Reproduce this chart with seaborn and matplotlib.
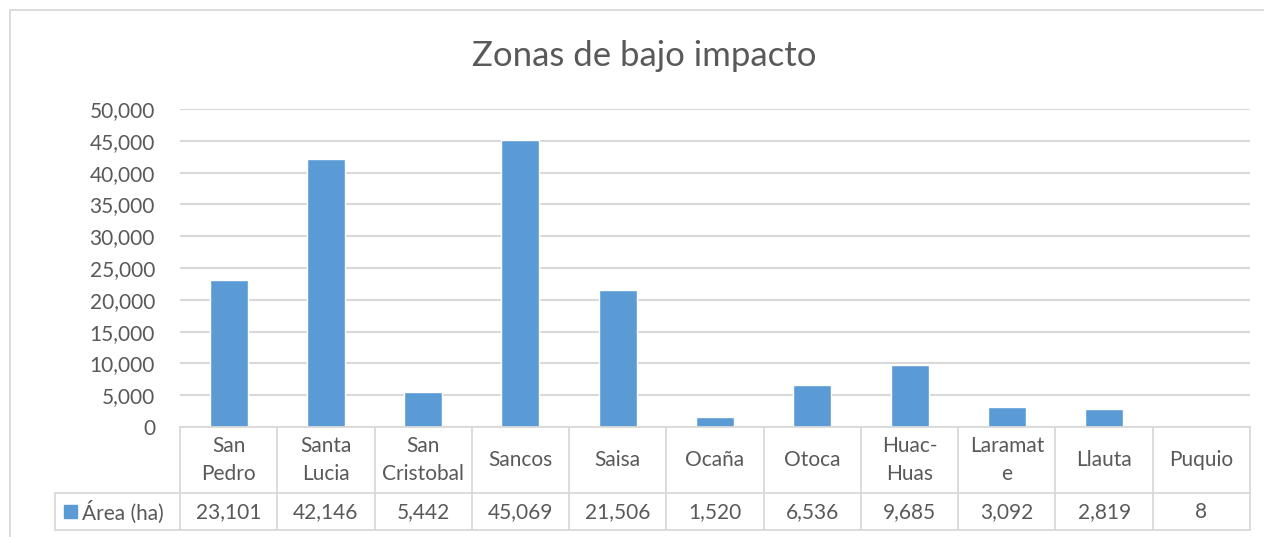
import matplotlib
matplotlib.use("Agg")
import matplotlib.pyplot as plt
from matplotlib.lines import Line2D
from matplotlib.patches import Rectangle
import seaborn as sns
import pandas as pd

# Data
categories = ["San Pedro", "Santa Lucia", "San Cristobal", "Sancos", "Saisa",
              "Ocaña", "Otoca", "Huac-Huas", "Laramate", "Llauta", "Puquio"]
category_labels = ["San\nPedro", "Santa\nLucia", "San\nCristobal", "Sancos", "Saisa",
                   "Ocaña", "Otoca", "Huac-\nHuas", "Laramat\ne", "Llauta", "Puquio"]
area_ha = [23101, 42146, 5442, 45069, 21506, 1520, 6536, 9685, 3092, 2819, 8]
series_name = "Área (ha)"
title = "Zonas de bajo impacto"
y_ticks = [0, 5000, 10000, 15000, 20000, 25000, 30000, 35000, 40000, 45000, 50000]

BAR = "#5B9BD5"
TEXT = "#595959"
GRID = "#D9D9D9"
FONT = "Lato"
FS = 15

sns.set_theme(style="white")
plt.rcParams["font.family"] = [FONT, "DejaVu Sans"]

W, H = 1264, 537
fig = plt.figure(figsize=(W / 100, H / 100), dpi=100)
fig.patch.set_facecolor("white")

def fx(px):
    return px / W

def fy(py):
    return 1 - py / H

# plot area in pixels
x0, x1 = 180, 1250
y_top, y_zero = 109, 427
ax = fig.add_axes([fx(x0), fy(y_zero), fx(x1) - fx(x0), fy(y_top) - fy(y_zero)])

df = pd.DataFrame({"zona": categories, "area": area_ha})
sns.barplot(data=df, x="zona", y="area", color=BAR, width=0.39, ax=ax,
            saturation=1, order=categories)

ax.set_xlim(-0.5, len(categories) - 0.5)
ax.set_ylim(0, 50000)
ax.set_yticks(y_ticks)
ax.set_yticklabels([f"{v:,}" for v in y_ticks], color=TEXT, fontsize=FS)
ax.tick_params(axis="y", length=0, pad=18)
ax.set_xticks([])
ax.set_xlabel("")
ax.set_ylabel("")
ax.yaxis.grid(True, color=GRID, linewidth=1.5)
ax.set_axisbelow(True)
for s in ax.spines.values():
    s.set_visible(False)

fig.text(fx(644), fy(56), title, ha="center", va="center",
         fontsize=25, color=TEXT)

# data table beneath the plot
n = len(categories)
cw = (x1 - x0) / n
row1_bot = 493
row2_bot = 530
legend_left = 55

def hline(y, xa, xb):
    fig.add_artist(Line2D([fx(xa), fx(xb)], [fy(y), fy(y)], color=GRID, lw=1.3))

def vline(x, ya, yb):
    fig.add_artist(Line2D([fx(x), fx(x)], [fy(ya), fy(yb)], color=GRID, lw=1.3))

hline(y_zero, x0, x1)
hline(row1_bot, legend_left, x1)
hline(row2_bot, legend_left, x1)
vline(legend_left, row1_bot, row2_bot)
for i in range(n + 1):
    vline(x0 + i * cw, y_zero, row2_bot)

for i, (lab, val) in enumerate(zip(category_labels, area_ha)):
    cx = x0 + (i + 0.5) * cw
    fig.text(fx(cx), fy((y_zero + row1_bot) / 2), lab, ha="center", va="center",
             fontsize=FS, color=TEXT, linespacing=1.55)
    fig.text(fx(cx), fy((row1_bot + row2_bot) / 2 + 1), f"{val:,}", ha="center",
             va="center", fontsize=FS, color=TEXT)

# legend key in the table
fig.add_artist(Rectangle((fx(64), fy(518)), fx(13), fy(505) - fy(518),
                         color=BAR, transform=fig.transFigure))
fig.text(fx(82), fy((row1_bot + row2_bot) / 2 + 1), series_name, ha="left",
         va="center", fontsize=FS, color=TEXT)

# chart area outline
fig.add_artist(Line2D([fx(10), fx(10)], [fy(10), 0], color=GRID, lw=1.3))
fig.add_artist(Line2D([fx(10), 1], [fy(10), fy(10)], color=GRID, lw=1.3))

fig.savefig("out.png", dpi=100, facecolor="white")
